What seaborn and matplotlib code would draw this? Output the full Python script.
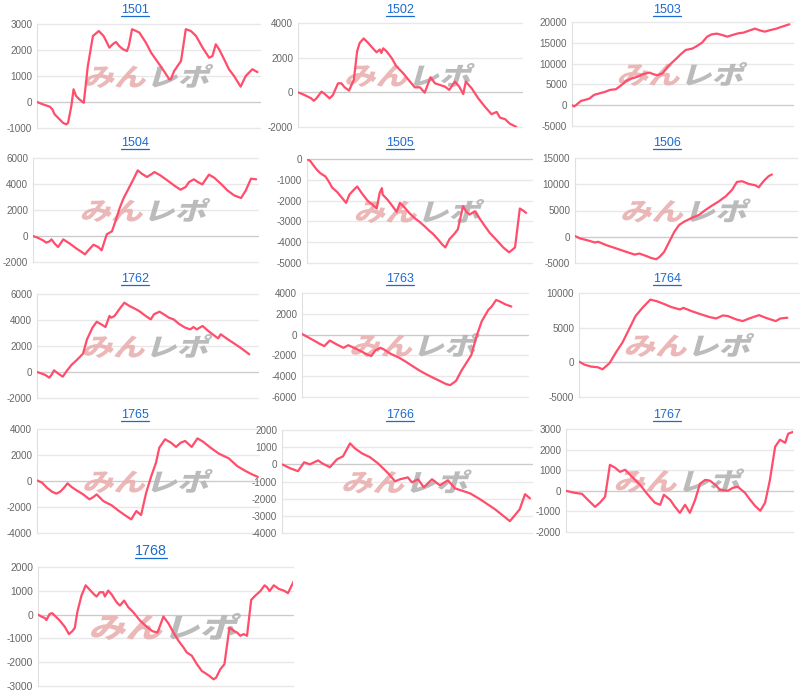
import numpy as np
import pandas as pd
import matplotlib
matplotlib.use('Agg')
import matplotlib.pyplot as plt
import matplotlib.transforms as mtransforms
from matplotlib.textpath import TextPath
from matplotlib.patches import PathPatch
from matplotlib.font_manager import FontProperties
from matplotlib.lines import Line2D
from matplotlib.ticker import FuncFormatter
import seaborn as sns

# ==========================================
# 0. DATA (cumulative diff per machine, by day)
# ==========================================
machines = ['1501', '1502', '1503', '1504', '1505', '1506',
            '1762', '1763', '1764', '1765', '1766', '1767', '1768']

days_1501 = [0, 1.6, 3.5, 4.2, 4.8, 6.2, 7.1, 8.0, 8.5, 9.4, 10.0, 10.7, 11.6, 12.8, 13.9, 15.3,
             16.9, 18.2, 18.9, 19.8, 20.7, 21.6, 22.5, 23.5, 24.6, 25.1, 26.0, 27.1, 28.0, 29.8,
             31.2, 32.5, 34.4, 36.2, 36.6, 37.5, 39.4, 40.7, 42.1, 43.5, 45.3, 47.1, 48.0, 48.9,
             49.8, 51.2, 52.5, 53.9, 55.7, 57.1, 58.9, 60.3]
pl_1501 = [0, -90, -180, -280, -470, -670, -800, -860, -800, -150, 490, 230, 100, -30, 1380, 2540,
           2730, 2540, 2350, 2090, 2220, 2310, 2150, 2030, 1960, 2150, 2800, 2730, 2670, 2280,
           1900, 1640, 1260, 870, 870, 1190, 1580, 2800, 2730, 2540, 2090, 1700, 1770, 2220,
           2030, 1640, 1260, 1000, 590, 1000, 1260, 1150]

days_1502 = [0, 1.4, 2.7, 3.6, 4.3, 5.0, 6.4, 7.3, 8.6, 9.5, 10.9, 11.8, 12.7, 13.9, 15.2, 16.1,
             16.8, 17.9, 19.1, 20.3, 21.4, 22.3, 22.7, 23.2, 24.1, 25.5, 26.8, 28.6, 30.5, 31.8,
             33.2, 34.5, 36.1, 37.3, 38.6, 40.0, 41.2, 42.7, 43.9, 45.0, 45.7, 47.3, 49.1, 50.9,
             52.7, 54.1, 55.0, 56.4, 57.7, 59.5]
pl_1502 = [0, -120, -250, -350, -490, -350, 40, -100, -350, -160, 520, 520, 290, 100, 720, 2370,
           2850, 3110, 2850, 2560, 2310, 2470, 2270, 2540, 2370, 1980, 1500, 1110, 620, 290,
           290, -20, 870, 520, 430, 330, 140, 620, 330, -100, 620, 230, -350, -830,
           -1260, -1130, -1460, -1550, -1810, -2000]

days_1503 = [0, 0.6, 1.4, 2.5, 3.6, 4.8, 6.1, 7.7, 9.1, 10.5, 12.1, 13.6, 15.0, 16.4, 18.2, 19.5,
             21.4, 22.5, 23.6, 25.0, 26.8, 28.6, 30.0, 31.4, 33.2, 34.5, 35.9, 37.3, 38.6, 40.0,
             41.4, 42.9, 44.3, 45.9, 47.3, 48.6, 50.5, 51.8, 53.2, 54.5, 56.4, 57.7, 59.1, 60.0]
pl_1503 = [0, -300, 240, 1040, 1280, 1600, 2480, 2880, 3200, 3680, 3840, 4800, 5840, 6400, 6880, 7440,
           7840, 7440, 7200, 7680, 9600, 11040, 12240, 13280, 13600, 14240, 15040, 16480, 17040, 17200,
           16880, 16480, 16880, 17280, 17440, 17840, 18400, 18000, 17680, 18000, 18400, 18800, 19200, 19440]

days_1504 = [0, 1.4, 2.7, 3.6, 4.5, 5.0, 5.9, 6.8, 8.2, 10.0, 11.8, 13.2, 14.1, 15.0, 16.4, 17.7,
             18.6, 20.0, 21.4, 22.3, 23.5, 24.5, 25.9, 27.3, 28.4, 29.5, 30.9, 32.3, 32.9, 34.5,
             36.4, 38.2, 40.0, 41.4, 42.3, 43.6, 44.7, 45.9, 47.7, 49.1, 50.9, 52.7, 54.5, 56.4,
             57.7, 59.1, 60.5]
pl_1504 = [0, -150, -330, -510, -410, -260, -590, -850, -260, -590, -970, -1230, -1410, -1100, -670, -850,
           -1100, 130, 360, 1080, 2150, 2870, 3640, 4410, 5050, 4790, 4540, 4790, 4920, 4670,
           4280, 3900, 3560, 3770, 4150, 4360, 4150, 3970, 4720, 4490, 4030, 3510, 3130, 2920,
           3510, 4410, 4360]

days_1505 = [0, 0.9, 1.8, 2.7, 3.6, 5.0, 5.9, 6.8, 8.2, 9.5, 10.6, 11.5, 12.7, 13.6, 15.0, 16.4,
             17.7, 18.9, 19.7, 20.3, 20.5, 21.8, 23.2, 24.3, 25.2, 26.4, 27.7, 29.1, 30.5, 31.8,
             33.2, 34.1, 35.5, 36.6, 37.5, 38.6, 40.0, 40.9, 42.3, 43.2, 44.1, 45.5, 46.8, 48.2,
             49.5, 51.4, 53.2, 54.8, 56.4, 57.7, 58.6, 59.4]
pl_1505 = [0, -100, -320, -520, -680, -840, -1080, -1370, -1590, -1870, -2110, -1710, -1480, -1320, -1680, -2000,
           -2190, -2380, -1630, -1400, -1710, -1950, -2270, -2540, -2110, -2320, -2590, -2830, -3020, -3220,
           -3460, -3590, -3860, -4100, -4250, -3860, -3590, -3380, -2270, -2540, -2670, -2510, -2860, -3220,
           -3540, -3900, -4250, -4490, -4250, -2380, -2480, -2590]

days_1506 = [0, 1.4, 3.2, 5.5, 6.4, 8.6, 11.4, 14.1, 16.4, 17.7, 19.5, 20.9, 22.3, 23.2, 24.5, 25.9,
             27.3, 28.6, 30.0, 32.3, 34.1, 35.9, 37.7, 39.5, 41.4, 43.2, 44.5, 45.9, 47.7, 49.5,
             50.5, 51.8, 53.2, 54.1]
pl_1506 = [130, -320, -640, -1090, -960, -1600, -2240, -2880, -3400, -3200, -3650, -4040, -4290, -3850, -2880, -960,
           960, 2240, 2880, 3650, 4170, 5130, 5960, 6730, 7690, 8970, 10450, 10580, 10060, 9810,
           9420, 10580, 11540, 11860]

days_1762 = [0, 1.4, 2.3, 3.4, 4.1, 4.7, 5.9, 7.1, 8.2, 9.5, 10.9, 11.8, 12.7, 13.8, 15.3, 16.5,
             17.7, 18.9, 20.0, 20.5, 21.4, 22.7, 24.1, 25.5, 26.8, 28.2, 30.0, 31.4, 32.3, 33.8,
             35.0, 36.4, 37.7, 39.1, 40.9, 42.3, 43.2, 44.1, 45.7, 47.3, 49.1, 50.0, 50.7, 52.7,
             54.5, 56.4, 58.6]
pl_1762 = [0, -130, -230, -440, -180, 130, -130, -360, 80, 540, 900, 1150, 1410, 2510, 3410, 3870,
           3670, 3460, 4310, 4180, 4310, 4820, 5330, 5080, 4900, 4690, 4310, 4050, 4440, 4640,
           4440, 4180, 4050, 3720, 3410, 3280, 3460, 3280, 3540, 3150, 2770, 2590, 2900, 2510,
           2180, 1820, 1360]

days_1763 = [0, 1.6, 3.5, 4.8, 6.0, 7.5, 9.4, 11.2, 12.5, 14.4, 16.2, 17.5, 18.7, 19.8, 21.2, 22.1,
             23.9, 26.2, 28.0, 29.8, 31.6, 33.5, 35.3, 37.1, 38.9, 40.0, 41.6, 43.0, 44.4, 45.7,
             47.1, 48.5, 50.3, 51.2, 52.4, 53.5, 54.8, 56.5]
pl_1763 = [60, -250, -630, -890, -1110, -570, -950, -1270, -1020, -1330, -1650, -1900, -2060, -1520, -1270, -1430,
           -1840, -2220, -2600, -3020, -3430, -3810, -4130, -4440, -4760, -4860, -4440, -3490, -2700, -1970,
           -160, 1270, 2380, 2700, 3330, 3170, 2920, 2700]

days_1764 = [0, 1.5, 3.4, 5.2, 6.5, 8.4, 10.2, 12.0, 13.8, 15.6, 17.5, 19.7, 21.5, 23.4, 25.6, 27.9,
             28.8, 31.1, 33.8, 36.1, 37.9, 39.7, 41.1, 43.4, 45.2, 47.0, 49.7, 51.5, 54.3, 55.6,
             57.5]
pl_1764 = [100, -330, -620, -710, -1000, -140, 1430, 2860, 4760, 6670, 7860, 9050, 8810, 8430, 7950, 7620,
           7860, 7380, 6900, 6520, 6330, 6760, 6670, 6190, 5950, 6330, 6810, 6430, 5950, 6330,
           6430]

days_1765 = [0, 1.4, 2.7, 4.1, 5.3, 6.4, 7.3, 8.4, 9.5, 10.9, 12.7, 14.4, 15.5, 16.4, 18.2, 20.5,
             22.3, 24.1, 25.9, 27.3, 28.6, 30.0, 31.4, 32.7, 33.6, 35.2, 36.8, 38.2, 39.5, 40.7,
             42.5, 44.1, 45.6, 47.7, 50.0, 52.7, 55.0, 57.3, 59.1, 60.7]
pl_1765 = [50, -130, -510, -820, -970, -820, -560, -180, -460, -720, -1030, -1410, -1230, -1030, -1540, -1870,
           -2260, -2620, -2950, -2310, -2620, -900, 380, 1410, 2560, 3210, 2950, 2620, 2950, 3080,
           2620, 3280, 3030, 2560, 2100, 1740, 1150, 770, 510, 310]

days_1766 = [0, 2.0, 3.9, 5.4, 6.8, 8.8, 9.8, 11.7, 13.4, 14.9, 16.6, 17.8, 19.5, 21.5, 23.4, 25.9,
             27.6, 28.8, 30.7, 31.7, 33.2, 34.6, 36.6, 38.5, 40.5, 42.2, 45.9, 48.3, 52.0, 54.4,
             55.6, 56.8, 58.0, 59.3, 60.5]
pl_1766 = [0, -230, -400, 120, 0, 230, 60, -170, 290, 470, 1220, 930, 640, 410, 60, -520,
           -990, -870, -760, -1050, -870, -1340, -870, -1220, -930, -1400, -1690, -2030, -2620, -3080,
           -3310, -2970, -2620, -1740, -1980]

days_1767 = [0, 2.4, 4.3, 5.9, 7.8, 9.1, 10.5, 11.8, 13.2, 14.5, 15.9, 17.2, 19.9, 22.0, 23.9, 25.3,
             26.3, 28.0, 29.3, 30.6, 32.0, 33.3, 34.7, 36.0, 37.4, 38.7, 40.1, 41.4, 43.5, 44.9,
             46.2, 48.1, 49.5, 50.8, 52.2, 53.5, 54.8, 56.2, 57.5, 58.9, 59.7, 61.0]
pl_1767 = [0, -100, -150, -440, -780, -580, -290, 1260, 1120, 920, 1020, 780, 290, -190, -580, -680,
           -190, -440, -780, -1070, -680, -1070, -440, 340, 530, 490, 290, 50, 0, 150,
           190, -100, -440, -730, -970, -580, 530, 2140, 2480, 2330, 2770, 2860]

days_1768 = [0, 0.8, 1.6, 2.0, 2.8, 3.4, 4.0, 5.2, 6.4, 7.4, 8.2, 8.8, 9.4, 10.4, 11.4, 12.4,
             13.4, 14.0, 14.8, 15.6, 16.0, 16.8, 17.6, 18.8, 19.6, 20.6, 21.6, 22.8, 24.4, 26.0,
             27.4, 28.6, 30.0, 31.2, 32.4, 33.6, 34.8, 35.6, 36.8, 38.0, 39.2, 40.8, 42.0, 42.6,
             43.6, 44.6, 45.8, 46.8, 47.6, 48.4, 49.2, 50.0, 51.0, 52.0, 53.2, 54.2, 54.8, 55.4,
             56.4, 57.6, 58.8, 59.8, 61.2]
pl_1768 = [0, -80, -140, -230, 30, 60, -40, -250, -510, -820, -700, -560, 100, 800, 1230, 1040,
           850, 760, 940, 940, 760, 1010, 850, 520, 380, 590, 310, 100, -250, -510,
           -700, -750, -80, -370, -750, -1100, -1380, -1590, -1730, -2080, -2370, -2550, -2720, -2650,
           -2300, -2080, -540, -680, -750, -890, -820, -890, 620, 800, 990, 1230, 1150, 990,
           1230, 1080, 1010, 900, 1410]

all_days = [days_1501, days_1502, days_1503, days_1504, days_1505, days_1506,
            days_1762, days_1763, days_1764, days_1765, days_1766, days_1767, days_1768]
all_pl = [pl_1501, pl_1502, pl_1503, pl_1504, pl_1505, pl_1506,
          pl_1762, pl_1763, pl_1764, pl_1765, pl_1766, pl_1767, pl_1768]

# y axis range per machine: (min, max, step)
y_ranges = [(-1000, 3000, 1000), (-2000, 4000, 2000), (-5000, 20000, 5000),
            (-2000, 6000, 2000), (-5000, 0, 1000), (-5000, 15000, 5000),
            (-2000, 6000, 2000), (-6000, 4000, 2000), (-5000, 10000, 5000),
            (-4000, 4000, 2000), (-4000, 2000, 1000), (-2000, 3000, 1000),
            (-3000, 2000, 1000)]
period_days = 61

# ==========================================
# 1. LAYOUT (pixels: left, top, right, bottom of plot area)
# ==========================================
W, H = 800, 694
boxes = [
    (37, 24, 260, 128), (298, 23, 522, 127), (572, 22, 793, 126),
    (33, 158, 258, 262), (307, 159, 532, 263), (575, 158, 797, 263),
    (37, 294, 258, 398), (302, 293, 528, 397), (579, 293, 800, 397),
    (37, 429, 259, 533), (282, 430, 532, 533), (566, 429, 793, 532),
    (38, 567, 293, 686),
]
title_pos = [(135, 10), (400, 10), (667, 10),
             (135, 143), (400, 143), (667, 143),
             (135, 279), (400, 279), (667, 279),
             (135, 415), (400, 415), (667, 415),
             (151, 551)]

LINE = '#ff4d6b'
LINK = '#1a6bd0'

sns.set_style('white')
plt.rcParams['font.family'] = ['Liberation Sans', 'DejaVu Sans']
plt.rcParams['axes.unicode_minus'] = False

wm_font = FontProperties(family='Noto Sans CJK JP', weight='heavy')


def watermark(ax, width_px, height_px):
    p1 = TextPath((0, 0), 'みん', size=20, prop=wm_font)
    e1 = p1.get_extents()
    p2 = TextPath((e1.x1 + 1, 0), 'レポ', size=20, prop=wm_font)
    e2 = p2.get_extents()
    x0, x1 = e1.x0, e2.x1
    y0, y1 = min(e1.y0, e2.y0), max(e1.y1, e2.y1)
    kx = width_px / (x1 - x0)
    ky = height_px / (y1 - y0)
    tr = (mtransforms.Affine2D()
          .translate(-(x0 + x1) / 2, -(y0 + y1) / 2)
          .scale(kx, ky)
          .skew_deg(16, 0)
          + mtransforms.ScaledTranslation(0.5, 0.5, ax.transAxes))
    for p, c in [(p1, '#e9b0b0'), (p2, '#b4b4b4')]:
        patch = PathPatch(p, facecolor=c, edgecolor='none', alpha=0.9,
                          transform=tr, zorder=2)
        ax.add_artist(patch)


fig = plt.figure(figsize=(W / 100, H / 100), dpi=100)
titles = []

for i, name in enumerate(machines):
    l, t, r, b = boxes[i]
    ax = fig.add_axes([l / W, 1 - b / H, (r - l) / W, (b - t) / H])
    lo, hi, step = y_ranges[i]
    ticks = np.arange(lo, hi + step, step)

    for v in ticks:
        ax.axhline(v, color='#cccccc' if v == 0 else '#e8e8e8',
                   lw=1.0, zorder=1, clip_on=False)

    last = (i == len(machines) - 1)
    if last:
        watermark(ax, 145, 27)
    else:
        watermark(ax, 124, 24)

    df = pd.DataFrame({'day': all_days[i], 'diff': all_pl[i]})
    sns.lineplot(data=df, x='day', y='diff', ax=ax, color=LINE, lw=1.6,
                 sort=False, estimator=None, zorder=3)

    ax.set_xlim(0, period_days)
    ax.set_ylim(lo, hi)
    ax.set_yticks(ticks)
    ax.yaxis.set_major_formatter(FuncFormatter(lambda v, p: str(int(round(v)))))
    ax.set_xticks([])
    ax.set_xlabel('')
    ax.set_ylabel('')
    ax.tick_params(axis='y', length=0, pad=3.5, labelsize=7.4 if last else 7.1,
                   labelcolor='#666666')
    for s in ['top', 'right', 'bottom']:
        ax.spines[s].set_visible(False)
    ax.spines['left'].set_color('#e0e0e0')
    ax.spines['left'].set_linewidth(0.8)

    tx, ty = title_pos[i]
    txt = fig.text(tx / W, 1 - ty / H, name, ha='center', va='center',
                   fontsize=10.3 if last else 9, color=LINK)
    titles.append(txt)

# underline the titles like links
fig.canvas.draw()
renderer = fig.canvas.get_renderer()
for txt in titles:
    bb = txt.get_window_extent(renderer)
    yy = (bb.y0 + 0.5) / H
    fig.add_artist(Line2D([bb.x0 / W, bb.x1 / W], [yy, yy],
                          transform=fig.transFigure, color=LINK, lw=0.9))

fig.savefig('out.png', dpi=100)
print('saved out.png')
